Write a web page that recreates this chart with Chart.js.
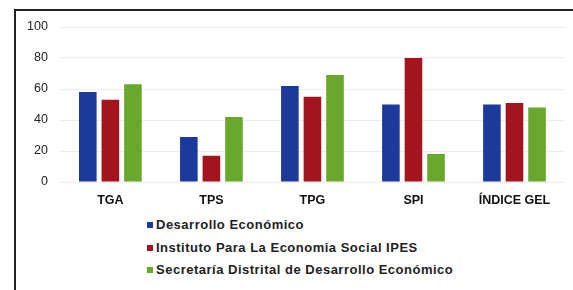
<!DOCTYPE html>
<html>
<head>
<meta charset="utf-8">
<script src="https://cdn.jsdelivr.net/npm/chart.js@4"></script>
<style>
  body { margin: 0; background: #fff; font-family: "Liberation Sans", Arial, sans-serif; }
  #frame { position: absolute; left: 14px; top: 9px; width: 600px; height: 300px;
           border-left: 2px solid #222; border-top: 2px solid #222; }
  #wrap { position: absolute; left: 0; top: 0; width: 573px; height: 211px; }
  #legend { position: absolute; left: 147px; top: 216px; font-size: 13px; font-weight: bold;
            letter-spacing: 0.5px; color: #222; }
  #legend div { height: 22.6px; line-height: 18px; }
  #legend span { display: inline-block; width: 6px; height: 6px; margin-right: 3px; vertical-align: 1px; }
</style>
</head>
<body>
<div id="frame"></div>
<div id="wrap"><canvas id="c"></canvas></div>
<div id="legend"></div>
<script>
var categories = ["TGA", "TPS", "TPG", "SPI", "ÍNDICE GEL"];
var seriesNames = ["Desarrollo Económico", "Instituto Para La Economia Social IPES", "Secretaría Distrital de Desarrollo Económico"];
var desarrollo = [58, 29, 62, 50, 50];
var ipes = [53, 17, 55, 80, 51];
var secretaria = [63, 42, 69, 18, 48];
var colors = ["#1c3a9c", "#a3141e", "#68a82c"];
var yTicks = [0, 20, 40, 60, 80, 100];

var values = [desarrollo, ipes, secretaria];
var datasets = seriesNames.map(function (name, i) {
  return {
    label: name,
    data: values[i],
    backgroundColor: colors[i],
    barPercentage: 0.78,
    categoryPercentage: 0.67
  };
});

var ctx = document.getElementById('c').getContext('2d');
ctx.letterSpacing = '0.6px';
var chart = new Chart(ctx, {
  type: 'bar',
  data: { labels: categories, datasets: datasets },
  options: {
    responsive: true,
    maintainAspectRatio: false,
    animation: false,
    layout: { padding: { left: 15, right: 8, top: 27, bottom: 0 } },
    plugins: { legend: { display: false }, tooltip: { enabled: false } },
    scales: {
      x: {
        grid: { display: false },
        border: { display: false },
        ticks: { color: '#111', font: { family: 'Liberation Sans', size: 12.5, weight: 'bold' }, padding: 3 }
      },
      y: {
        min: 0, max: 100,
        afterBuildTicks: function (axis) { axis.ticks = yTicks.map(function (v) { return { value: v }; }); },
        grid: { color: '#ececec', drawTicks: false },
        border: { display: false },
        ticks: { color: '#222', font: { family: 'Liberation Sans', size: 12.5 }, padding: 12 }
      }
    }
  }
});

var legend = document.getElementById('legend');
seriesNames.forEach(function (name, i) {
  var row = document.createElement('div');
  row.innerHTML = '<span style="background:' + colors[i] + '"></span>' + name;
  legend.appendChild(row);
});
</script>
</body>
</html>
